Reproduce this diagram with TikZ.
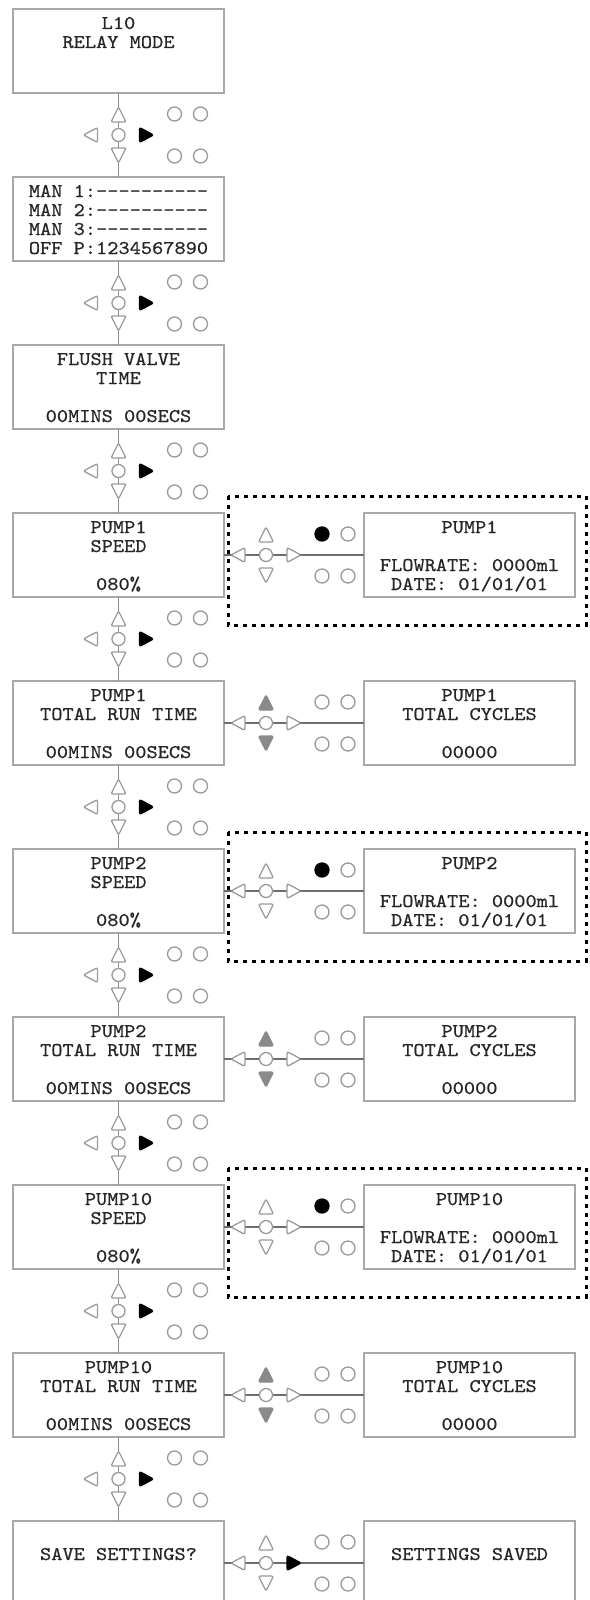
\documentclass[tikz,border=0pt]{standalone}
\usepackage{fontspec}
\usepackage{xcolor}
\usepackage{tikz}
\usetikzlibrary{positioning, calc}
\newfontfamily\lcdfont{lmmono10-regular.otf}[FakeStretch=1.1, FakeBold=0.6, Ligatures=TeXOff]
\definecolor{framegray}{HTML}{A8A8A8}
\definecolor{linegray}{HTML}{8C8C8C}
\definecolor{wiregray}{HTML}{6E6E6E}
\definecolor{keygray}{HTML}{9A9A9A}
\definecolor{dimgray}{HTML}{8A8A8A}
\definecolor{inkgray}{HTML}{262626}
\newcommand{\lcdrow}{\rule[-1.5pt]{0pt}{9.5pt}}
\newcommand{\lcdtext}[4]{\spaceskip=\fontcharwd\font`0\relax
  \lcdrow#1\\\lcdrow#2\\\lcdrow#3\\\lcdrow#4}

\tikzset{
  btnoff/.style={draw=keygray, fill=white, line width=0.65pt},
  btnon/.style={draw=black, fill=black, line width=0.65pt},
  btngray/.style={draw=dimgray, fill=dimgray, line width=0.65pt},
  % keypad: up, down, left, right, top-left lamp
  pics/navpad/.style n args={5}{code={
    \draw[#1, rounded corners=1pt] (0,-28) -- (7.5,-13) -- (-7.5,-13) -- cycle;
    \draw[#2, rounded corners=1pt] (0,28) -- (7.5,13) -- (-7.5,13) -- cycle;
    \draw[#3, rounded corners=1pt] (-35,0) -- (-21,7.5) -- (-21,-7.5) -- cycle;
    \draw[#4, rounded corners=1pt] (35,0) -- (21,7.5) -- (21,-7.5) -- cycle;
    \draw[btnoff] (0,0) circle[radius=3.25pt];
    \draw[#5] (56,-21) circle[radius=3.5pt];
    \draw[btnoff] (82,-21) circle[radius=3.5pt];
    \draw[btnoff] (56,21) circle[radius=3.5pt];
    \draw[btnoff] (82,21) circle[radius=3.5pt];
  }}
}

\begin{document}
\begin{tikzpicture}[x=0.5pt, y=-0.5pt, node distance=42pt,
    lcd/.style={draw=framegray, line width=0.75pt, fill=white, minimum width=105.5pt,
      minimum height=42pt, inner sep=0pt, outer sep=0pt, text width=105pt, align=center,
      text=inkgray, font=\lcdfont\fontsize{9.7pt}{9.5pt}\selectfont},
    vline/.style={draw=linegray, line width=0.75pt},
    hline/.style={draw=wiregray, line width=1pt},
    dotbox/.style={draw=black, line width=1.5pt, dash pattern=on 2pt off 2.5pt}]
  \useasboundingbox (0,0) rectangle (589,1600);
  \clip (0,0) rectangle (589,1600);

  % menu column
  \node[lcd] (L1) at (118.5,51) {\lcdtext{L10}{RELAY MODE}{}{}};
  \node[lcd, below=of L1] (L2) {\lcdtext{MAN 1:----------}{MAN 2:----------}{MAN 3:----------}{OFF P:1234567890}};
  \node[lcd, below=of L2] (L3) {\lcdtext{FLUSH VALVE}{TIME}{}{00MINS 00SECS}};
  \node[lcd, below=of L3] (L4) {\lcdtext{PUMP1}{SPEED}{}{080\%}};
  \node[lcd, below=of L4] (L5) {\lcdtext{PUMP1}{TOTAL RUN TIME}{}{00MINS 00SECS}};
  \node[lcd, below=of L5] (L6) {\lcdtext{PUMP2}{SPEED}{}{080\%}};
  \node[lcd, below=of L6] (L7) {\lcdtext{PUMP2}{TOTAL RUN TIME}{}{00MINS 00SECS}};
  \node[lcd, below=of L7] (L8) {\lcdtext{PUMP10}{SPEED}{}{080\%}};
  \node[lcd, below=of L8] (L9) {\lcdtext{PUMP10}{TOTAL RUN TIME}{}{00MINS 00SECS}};
  \node[lcd, below=of L9] (L10) {\lcdtext{}{SAVE SETTINGS?}{}{}};

  % side screens
  \node[lcd, right=70pt of L4] (R4) {\lcdtext{PUMP1}{}{FLOWRATE: 0000ml}{DATE: 01/01/01}};
  \node[lcd, right=70pt of L5] (R5) {\lcdtext{PUMP1}{TOTAL CYCLES}{}{00000}};
  \node[lcd, right=70pt of L6] (R6) {\lcdtext{PUMP2}{}{FLOWRATE: 0000ml}{DATE: 01/01/01}};
  \node[lcd, right=70pt of L7] (R7) {\lcdtext{PUMP2}{TOTAL CYCLES}{}{00000}};
  \node[lcd, right=70pt of L8] (R8) {\lcdtext{PUMP10}{}{FLOWRATE: 0000ml}{DATE: 01/01/01}};
  \node[lcd, right=70pt of L9] (R9) {\lcdtext{PUMP10}{TOTAL CYCLES}{}{00000}};
  \node[lcd, right=70pt of L10] (R10) {\lcdtext{}{SETTINGS SAVED}{}{}};

  % connectors
  \draw[vline] (L1) -- (L2);
  \draw[vline] (L2) -- (L3);
  \draw[vline] (L3) -- (L4);
  \draw[vline] (L4) -- (L5);
  \draw[vline] (L5) -- (L6);
  \draw[vline] (L6) -- (L7);
  \draw[vline] (L7) -- (L8);
  \draw[vline] (L8) -- (L9);
  \draw[vline] (L9) -- (L10);
  \draw[hline] (L4) -- (R4);
  \draw[hline] (L5) -- (R5);
  \draw[hline] (L6) -- (R6);
  \draw[hline] (L7) -- (R7);
  \draw[hline] (L8) -- (R8);
  \draw[hline] (L9) -- (R9);
  \draw[hline] (L10) -- (R10);

  % dotted frames
  \draw[dotbox] ($(L4.north east)+(4,-17)$) rectangle ($(R4.south east)+(11,28)$);
  \draw[dotbox] ($(L6.north east)+(4,-17)$) rectangle ($(R6.south east)+(11,28)$);
  \draw[dotbox] ($(L8.north east)+(4,-17)$) rectangle ($(R8.south east)+(11,28)$);

  % keypads between screens
  \coordinate[below=21pt of L1] (v1);
  \coordinate[below=21pt of L2] (v2);
  \coordinate[below=21pt of L3] (v3);
  \coordinate[below=21pt of L4] (v4);
  \coordinate[below=21pt of L5] (v5);
  \coordinate[below=21pt of L6] (v6);
  \coordinate[below=21pt of L7] (v7);
  \coordinate[below=21pt of L8] (v8);
  \coordinate[below=21pt of L9] (v9);
  \pic at (v1) {navpad={btnoff}{btnoff}{btnoff}{btnon}{btnoff}};
  \pic at (v2) {navpad={btnoff}{btnoff}{btnoff}{btnon}{btnoff}};
  \pic at (v3) {navpad={btnoff}{btnoff}{btnoff}{btnon}{btnoff}};
  \pic at (v4) {navpad={btnoff}{btnoff}{btnoff}{btnon}{btnoff}};
  \pic at (v5) {navpad={btnoff}{btnoff}{btnoff}{btnon}{btnoff}};
  \pic at (v6) {navpad={btnoff}{btnoff}{btnoff}{btnon}{btnoff}};
  \pic at (v7) {navpad={btnoff}{btnoff}{btnoff}{btnon}{btnoff}};
  \pic at (v8) {navpad={btnoff}{btnoff}{btnoff}{btnon}{btnoff}};
  \pic at (v9) {navpad={btnoff}{btnoff}{btnoff}{btnon}{btnoff}};

  \coordinate[right=21pt of L4] (h4);
  \coordinate[right=21pt of L5] (h5);
  \coordinate[right=21pt of L6] (h6);
  \coordinate[right=21pt of L7] (h7);
  \coordinate[right=21pt of L8] (h8);
  \coordinate[right=21pt of L9] (h9);
  \coordinate[right=21pt of L10] (h10);
  \pic at (h4) {navpad={btnoff}{btnoff}{btnoff}{btnoff}{btnon}};
  \pic at (h5) {navpad={btngray}{btngray}{btnoff}{btnoff}{btnoff}};
  \pic at (h6) {navpad={btnoff}{btnoff}{btnoff}{btnoff}{btnon}};
  \pic at (h7) {navpad={btngray}{btngray}{btnoff}{btnoff}{btnoff}};
  \pic at (h8) {navpad={btnoff}{btnoff}{btnoff}{btnoff}{btnon}};
  \pic at (h9) {navpad={btngray}{btngray}{btnoff}{btnoff}{btnoff}};
  \pic at (h10) {navpad={btnoff}{btnoff}{btnoff}{btnon}{btnoff}};
\end{tikzpicture}
\end{document}
